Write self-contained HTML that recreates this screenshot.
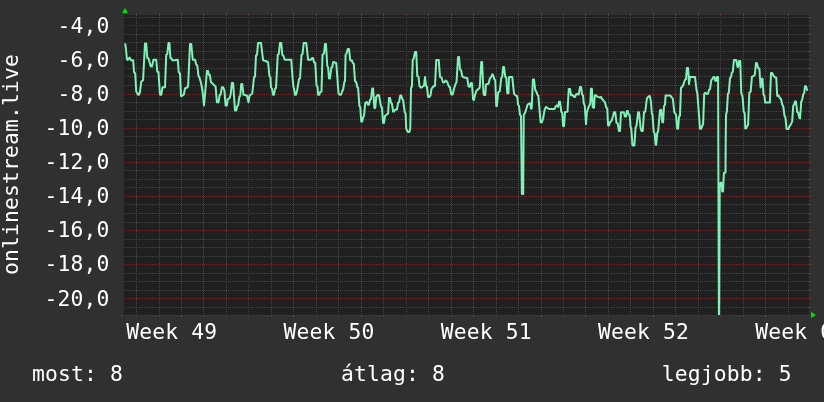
<!DOCTYPE html>
<html lang="hu"><head><meta charset="utf-8"><title>onlinestream.live</title>
<style>
html,body{margin:0;padding:0;background:#303030;overflow:hidden}
svg{display:block}
text{font-family:"DejaVu Sans Mono","Liberation Mono",monospace;font-size:21.33px;letter-spacing:0.16px;fill:#ffffff}
</style></head><body>
<svg width="824" height="402" viewBox="0 0 824 402">
<rect width="824" height="402" fill="#303030"/>
<rect x="124" y="15" width="685" height="300" fill="#202020"/>

<g stroke-width="1" stroke-dasharray="1 1" shape-rendering="crispEdges">
<line x1="123" y1="17.5" x2="811" y2="17.5" stroke="#454545" stroke-dashoffset="1"/>
<line x1="123" y1="34.5" x2="811" y2="34.5" stroke="#454545" stroke-dashoffset="1"/>
<line x1="123" y1="42.5" x2="811" y2="42.5" stroke="#454545" stroke-dashoffset="1"/>
<line x1="123" y1="51.5" x2="811" y2="51.5" stroke="#454545" stroke-dashoffset="1"/>
<line x1="123" y1="68.5" x2="811" y2="68.5" stroke="#454545" stroke-dashoffset="1"/>
<line x1="123" y1="76.5" x2="811" y2="76.5" stroke="#454545" stroke-dashoffset="1"/>
<line x1="123" y1="85.5" x2="811" y2="85.5" stroke="#454545" stroke-dashoffset="1"/>
<line x1="123" y1="102.5" x2="811" y2="102.5" stroke="#454545" stroke-dashoffset="1"/>
<line x1="123" y1="111.5" x2="811" y2="111.5" stroke="#454545" stroke-dashoffset="1"/>
<line x1="123" y1="119.5" x2="811" y2="119.5" stroke="#454545" stroke-dashoffset="1"/>
<line x1="123" y1="136.5" x2="811" y2="136.5" stroke="#454545" stroke-dashoffset="1"/>
<line x1="123" y1="145.5" x2="811" y2="145.5" stroke="#454545" stroke-dashoffset="1"/>
<line x1="123" y1="153.5" x2="811" y2="153.5" stroke="#454545" stroke-dashoffset="1"/>
<line x1="123" y1="170.5" x2="811" y2="170.5" stroke="#454545" stroke-dashoffset="1"/>
<line x1="123" y1="179.5" x2="811" y2="179.5" stroke="#454545" stroke-dashoffset="1"/>
<line x1="123" y1="187.5" x2="811" y2="187.5" stroke="#454545" stroke-dashoffset="1"/>
<line x1="123" y1="204.5" x2="811" y2="204.5" stroke="#454545" stroke-dashoffset="1"/>
<line x1="123" y1="213.5" x2="811" y2="213.5" stroke="#454545" stroke-dashoffset="1"/>
<line x1="123" y1="222.5" x2="811" y2="222.5" stroke="#454545" stroke-dashoffset="1"/>
<line x1="123" y1="239.5" x2="811" y2="239.5" stroke="#454545" stroke-dashoffset="1"/>
<line x1="123" y1="247.5" x2="811" y2="247.5" stroke="#454545" stroke-dashoffset="1"/>
<line x1="123" y1="256.5" x2="811" y2="256.5" stroke="#454545" stroke-dashoffset="1"/>
<line x1="123" y1="273.5" x2="811" y2="273.5" stroke="#454545" stroke-dashoffset="1"/>
<line x1="123" y1="281.5" x2="811" y2="281.5" stroke="#454545" stroke-dashoffset="1"/>
<line x1="123" y1="290.5" x2="811" y2="290.5" stroke="#454545" stroke-dashoffset="1"/>
<line x1="123" y1="307.5" x2="811" y2="307.5" stroke="#454545" stroke-dashoffset="1"/>
<line x1="136.5" y1="15" x2="136.5" y2="315" stroke="#494949"/>
<line x1="159.5" y1="15" x2="159.5" y2="315" stroke="#494949"/>
<line x1="181.5" y1="15" x2="181.5" y2="315" stroke="#494949"/>
<line x1="203.5" y1="15" x2="203.5" y2="315" stroke="#494949"/>
<line x1="226.5" y1="15" x2="226.5" y2="315" stroke="#494949"/>
<line x1="271.5" y1="15" x2="271.5" y2="315" stroke="#494949"/>
<line x1="293.5" y1="15" x2="293.5" y2="315" stroke="#494949"/>
<line x1="316.5" y1="15" x2="316.5" y2="315" stroke="#494949"/>
<line x1="338.5" y1="15" x2="338.5" y2="315" stroke="#494949"/>
<line x1="361.5" y1="15" x2="361.5" y2="315" stroke="#494949"/>
<line x1="383.5" y1="15" x2="383.5" y2="315" stroke="#494949"/>
<line x1="428.5" y1="15" x2="428.5" y2="315" stroke="#494949"/>
<line x1="451.5" y1="15" x2="451.5" y2="315" stroke="#494949"/>
<line x1="473.5" y1="15" x2="473.5" y2="315" stroke="#494949"/>
<line x1="496.5" y1="15" x2="496.5" y2="315" stroke="#494949"/>
<line x1="518.5" y1="15" x2="518.5" y2="315" stroke="#494949"/>
<line x1="541.5" y1="15" x2="541.5" y2="315" stroke="#494949"/>
<line x1="585.5" y1="15" x2="585.5" y2="315" stroke="#494949"/>
<line x1="608.5" y1="15" x2="608.5" y2="315" stroke="#494949"/>
<line x1="630.5" y1="15" x2="630.5" y2="315" stroke="#494949"/>
<line x1="653.5" y1="15" x2="653.5" y2="315" stroke="#494949"/>
<line x1="675.5" y1="15" x2="675.5" y2="315" stroke="#494949"/>
<line x1="698.5" y1="15" x2="698.5" y2="315" stroke="#494949"/>
<line x1="743.5" y1="15" x2="743.5" y2="315" stroke="#494949"/>
<line x1="765.5" y1="15" x2="765.5" y2="315" stroke="#494949"/>
<line x1="788.5" y1="15" x2="788.5" y2="315" stroke="#494949"/>
<line x1="123" y1="25.5" x2="811" y2="25.5" stroke="#6a2e2e" stroke-dashoffset="1"/>
<line x1="123" y1="59.5" x2="811" y2="59.5" stroke="#6a2e2e" stroke-dashoffset="1"/>
<line x1="123" y1="94.5" x2="811" y2="94.5" stroke="#6a2e2e" stroke-dashoffset="1"/>
<line x1="123" y1="128.5" x2="811" y2="128.5" stroke="#6a2e2e" stroke-dashoffset="1"/>
<line x1="123" y1="162.5" x2="811" y2="162.5" stroke="#6a2e2e" stroke-dashoffset="1"/>
<line x1="123" y1="196.5" x2="811" y2="196.5" stroke="#6a2e2e" stroke-dashoffset="1"/>
<line x1="123" y1="230.5" x2="811" y2="230.5" stroke="#6a2e2e" stroke-dashoffset="1"/>
<line x1="123" y1="264.5" x2="811" y2="264.5" stroke="#6a2e2e" stroke-dashoffset="1"/>
<line x1="123" y1="298.5" x2="811" y2="298.5" stroke="#6a2e2e" stroke-dashoffset="1"/>
<line x1="248.5" y1="15" x2="248.5" y2="315" stroke="#6a2e2e"/>
<line x1="406.5" y1="15" x2="406.5" y2="315" stroke="#6a2e2e"/>
<line x1="563.5" y1="15" x2="563.5" y2="315" stroke="#6a2e2e"/>
<line x1="720.5" y1="15" x2="720.5" y2="315" stroke="#6a2e2e"/>
</g>
<g stroke-width="1" shape-rendering="crispEdges">
<line x1="808" y1="17.5" x2="811" y2="17.5" stroke="#454545"/>
<line x1="123" y1="17.5" x2="124" y2="17.5" stroke="#454545"/>
<line x1="808" y1="25.5" x2="811" y2="25.5" stroke="#6a2e2e"/>
<line x1="123" y1="25.5" x2="124" y2="25.5" stroke="#6a2e2e"/>
<line x1="808" y1="34.5" x2="811" y2="34.5" stroke="#454545"/>
<line x1="123" y1="34.5" x2="124" y2="34.5" stroke="#454545"/>
<line x1="808" y1="42.5" x2="811" y2="42.5" stroke="#454545"/>
<line x1="123" y1="42.5" x2="124" y2="42.5" stroke="#454545"/>
<line x1="808" y1="51.5" x2="811" y2="51.5" stroke="#454545"/>
<line x1="123" y1="51.5" x2="124" y2="51.5" stroke="#454545"/>
<line x1="808" y1="59.5" x2="811" y2="59.5" stroke="#6a2e2e"/>
<line x1="123" y1="59.5" x2="124" y2="59.5" stroke="#6a2e2e"/>
<line x1="808" y1="68.5" x2="811" y2="68.5" stroke="#454545"/>
<line x1="123" y1="68.5" x2="124" y2="68.5" stroke="#454545"/>
<line x1="808" y1="76.5" x2="811" y2="76.5" stroke="#454545"/>
<line x1="123" y1="76.5" x2="124" y2="76.5" stroke="#454545"/>
<line x1="808" y1="85.5" x2="811" y2="85.5" stroke="#454545"/>
<line x1="123" y1="85.5" x2="124" y2="85.5" stroke="#454545"/>
<line x1="808" y1="94.5" x2="811" y2="94.5" stroke="#6a2e2e"/>
<line x1="123" y1="94.5" x2="124" y2="94.5" stroke="#6a2e2e"/>
<line x1="808" y1="102.5" x2="811" y2="102.5" stroke="#454545"/>
<line x1="123" y1="102.5" x2="124" y2="102.5" stroke="#454545"/>
<line x1="808" y1="111.5" x2="811" y2="111.5" stroke="#454545"/>
<line x1="123" y1="111.5" x2="124" y2="111.5" stroke="#454545"/>
<line x1="808" y1="119.5" x2="811" y2="119.5" stroke="#454545"/>
<line x1="123" y1="119.5" x2="124" y2="119.5" stroke="#454545"/>
<line x1="808" y1="128.5" x2="811" y2="128.5" stroke="#6a2e2e"/>
<line x1="123" y1="128.5" x2="124" y2="128.5" stroke="#6a2e2e"/>
<line x1="808" y1="136.5" x2="811" y2="136.5" stroke="#454545"/>
<line x1="123" y1="136.5" x2="124" y2="136.5" stroke="#454545"/>
<line x1="808" y1="145.5" x2="811" y2="145.5" stroke="#454545"/>
<line x1="123" y1="145.5" x2="124" y2="145.5" stroke="#454545"/>
<line x1="808" y1="153.5" x2="811" y2="153.5" stroke="#454545"/>
<line x1="123" y1="153.5" x2="124" y2="153.5" stroke="#454545"/>
<line x1="808" y1="162.5" x2="811" y2="162.5" stroke="#6a2e2e"/>
<line x1="123" y1="162.5" x2="124" y2="162.5" stroke="#6a2e2e"/>
<line x1="808" y1="170.5" x2="811" y2="170.5" stroke="#454545"/>
<line x1="123" y1="170.5" x2="124" y2="170.5" stroke="#454545"/>
<line x1="808" y1="179.5" x2="811" y2="179.5" stroke="#454545"/>
<line x1="123" y1="179.5" x2="124" y2="179.5" stroke="#454545"/>
<line x1="808" y1="187.5" x2="811" y2="187.5" stroke="#454545"/>
<line x1="123" y1="187.5" x2="124" y2="187.5" stroke="#454545"/>
<line x1="808" y1="196.5" x2="811" y2="196.5" stroke="#6a2e2e"/>
<line x1="123" y1="196.5" x2="124" y2="196.5" stroke="#6a2e2e"/>
<line x1="808" y1="204.5" x2="811" y2="204.5" stroke="#454545"/>
<line x1="123" y1="204.5" x2="124" y2="204.5" stroke="#454545"/>
<line x1="808" y1="213.5" x2="811" y2="213.5" stroke="#454545"/>
<line x1="123" y1="213.5" x2="124" y2="213.5" stroke="#454545"/>
<line x1="808" y1="222.5" x2="811" y2="222.5" stroke="#454545"/>
<line x1="123" y1="222.5" x2="124" y2="222.5" stroke="#454545"/>
<line x1="808" y1="230.5" x2="811" y2="230.5" stroke="#6a2e2e"/>
<line x1="123" y1="230.5" x2="124" y2="230.5" stroke="#6a2e2e"/>
<line x1="808" y1="239.5" x2="811" y2="239.5" stroke="#454545"/>
<line x1="123" y1="239.5" x2="124" y2="239.5" stroke="#454545"/>
<line x1="808" y1="247.5" x2="811" y2="247.5" stroke="#454545"/>
<line x1="123" y1="247.5" x2="124" y2="247.5" stroke="#454545"/>
<line x1="808" y1="256.5" x2="811" y2="256.5" stroke="#454545"/>
<line x1="123" y1="256.5" x2="124" y2="256.5" stroke="#454545"/>
<line x1="808" y1="264.5" x2="811" y2="264.5" stroke="#6a2e2e"/>
<line x1="123" y1="264.5" x2="124" y2="264.5" stroke="#6a2e2e"/>
<line x1="808" y1="273.5" x2="811" y2="273.5" stroke="#454545"/>
<line x1="123" y1="273.5" x2="124" y2="273.5" stroke="#454545"/>
<line x1="808" y1="281.5" x2="811" y2="281.5" stroke="#454545"/>
<line x1="123" y1="281.5" x2="124" y2="281.5" stroke="#454545"/>
<line x1="808" y1="290.5" x2="811" y2="290.5" stroke="#454545"/>
<line x1="123" y1="290.5" x2="124" y2="290.5" stroke="#454545"/>
<line x1="808" y1="298.5" x2="811" y2="298.5" stroke="#6a2e2e"/>
<line x1="123" y1="298.5" x2="124" y2="298.5" stroke="#6a2e2e"/>
<line x1="808" y1="307.5" x2="811" y2="307.5" stroke="#454545"/>
<line x1="123" y1="307.5" x2="124" y2="307.5" stroke="#454545"/>
<line x1="136.5" y1="13" x2="136.5" y2="15" stroke="#494949"/>
<line x1="136.5" y1="315" x2="136.5" y2="317" stroke="#494949"/>
<line x1="159.5" y1="13" x2="159.5" y2="15" stroke="#494949"/>
<line x1="159.5" y1="315" x2="159.5" y2="317" stroke="#494949"/>
<line x1="181.5" y1="13" x2="181.5" y2="15" stroke="#494949"/>
<line x1="181.5" y1="315" x2="181.5" y2="317" stroke="#494949"/>
<line x1="203.5" y1="13" x2="203.5" y2="15" stroke="#494949"/>
<line x1="203.5" y1="315" x2="203.5" y2="317" stroke="#494949"/>
<line x1="226.5" y1="13" x2="226.5" y2="15" stroke="#494949"/>
<line x1="226.5" y1="315" x2="226.5" y2="317" stroke="#494949"/>
<line x1="248.5" y1="13" x2="248.5" y2="15" stroke="#6a2e2e"/>
<line x1="248.5" y1="315" x2="248.5" y2="317" stroke="#6a2e2e"/>
<line x1="271.5" y1="13" x2="271.5" y2="15" stroke="#494949"/>
<line x1="271.5" y1="315" x2="271.5" y2="317" stroke="#494949"/>
<line x1="293.5" y1="13" x2="293.5" y2="15" stroke="#494949"/>
<line x1="293.5" y1="315" x2="293.5" y2="317" stroke="#494949"/>
<line x1="316.5" y1="13" x2="316.5" y2="15" stroke="#494949"/>
<line x1="316.5" y1="315" x2="316.5" y2="317" stroke="#494949"/>
<line x1="338.5" y1="13" x2="338.5" y2="15" stroke="#494949"/>
<line x1="338.5" y1="315" x2="338.5" y2="317" stroke="#494949"/>
<line x1="361.5" y1="13" x2="361.5" y2="15" stroke="#494949"/>
<line x1="361.5" y1="315" x2="361.5" y2="317" stroke="#494949"/>
<line x1="383.5" y1="13" x2="383.5" y2="15" stroke="#494949"/>
<line x1="383.5" y1="315" x2="383.5" y2="317" stroke="#494949"/>
<line x1="406.5" y1="13" x2="406.5" y2="15" stroke="#6a2e2e"/>
<line x1="406.5" y1="315" x2="406.5" y2="317" stroke="#6a2e2e"/>
<line x1="428.5" y1="13" x2="428.5" y2="15" stroke="#494949"/>
<line x1="428.5" y1="315" x2="428.5" y2="317" stroke="#494949"/>
<line x1="451.5" y1="13" x2="451.5" y2="15" stroke="#494949"/>
<line x1="451.5" y1="315" x2="451.5" y2="317" stroke="#494949"/>
<line x1="473.5" y1="13" x2="473.5" y2="15" stroke="#494949"/>
<line x1="473.5" y1="315" x2="473.5" y2="317" stroke="#494949"/>
<line x1="496.5" y1="13" x2="496.5" y2="15" stroke="#494949"/>
<line x1="496.5" y1="315" x2="496.5" y2="317" stroke="#494949"/>
<line x1="518.5" y1="13" x2="518.5" y2="15" stroke="#494949"/>
<line x1="518.5" y1="315" x2="518.5" y2="317" stroke="#494949"/>
<line x1="541.5" y1="13" x2="541.5" y2="15" stroke="#494949"/>
<line x1="541.5" y1="315" x2="541.5" y2="317" stroke="#494949"/>
<line x1="563.5" y1="13" x2="563.5" y2="15" stroke="#6a2e2e"/>
<line x1="563.5" y1="315" x2="563.5" y2="317" stroke="#6a2e2e"/>
<line x1="585.5" y1="13" x2="585.5" y2="15" stroke="#494949"/>
<line x1="585.5" y1="315" x2="585.5" y2="317" stroke="#494949"/>
<line x1="608.5" y1="13" x2="608.5" y2="15" stroke="#494949"/>
<line x1="608.5" y1="315" x2="608.5" y2="317" stroke="#494949"/>
<line x1="630.5" y1="13" x2="630.5" y2="15" stroke="#494949"/>
<line x1="630.5" y1="315" x2="630.5" y2="317" stroke="#494949"/>
<line x1="653.5" y1="13" x2="653.5" y2="15" stroke="#494949"/>
<line x1="653.5" y1="315" x2="653.5" y2="317" stroke="#494949"/>
<line x1="675.5" y1="13" x2="675.5" y2="15" stroke="#494949"/>
<line x1="675.5" y1="315" x2="675.5" y2="317" stroke="#494949"/>
<line x1="698.5" y1="13" x2="698.5" y2="15" stroke="#494949"/>
<line x1="698.5" y1="315" x2="698.5" y2="317" stroke="#494949"/>
<line x1="720.5" y1="13" x2="720.5" y2="15" stroke="#6a2e2e"/>
<line x1="720.5" y1="315" x2="720.5" y2="317" stroke="#6a2e2e"/>
<line x1="743.5" y1="13" x2="743.5" y2="15" stroke="#494949"/>
<line x1="743.5" y1="315" x2="743.5" y2="317" stroke="#494949"/>
<line x1="765.5" y1="13" x2="765.5" y2="15" stroke="#494949"/>
<line x1="765.5" y1="315" x2="765.5" y2="317" stroke="#494949"/>
<line x1="788.5" y1="13" x2="788.5" y2="15" stroke="#494949"/>
<line x1="788.5" y1="315" x2="788.5" y2="317" stroke="#494949"/>
</g>
<clipPath id="c"><rect x="124" y="15" width="685" height="300"/></clipPath>
<polyline clip-path="url(#c)" points="125.1,43.4 125.9,48.5 126.9,59.2 127.75,59.9 129.5,57.6 131,60.2 133.1,60.2 134.1,72.25 135.25,73.5 136.25,91.6 138.1,94.75 139,94.75 140,91.6 141.25,81.6 142.75,80.5 143.1,79.75 145,43.5 146.25,43.5 147.25,57.9 148.5,58.5 150.6,66 151.9,66.6 153.5,59.75 156.25,59.75 157.25,71.6 158.5,72.25 159.75,92.25 160.25,94.75 161.25,94.75 162.5,87.25 165,87.25 166.25,54.75 167.25,54.1 168.5,42.9 169.4,42.9 170.4,57.9 171.5,58.5 172.5,60.4 177.75,59.75 178.75,72.25 180,73.5 181,96 182.25,95.75 183.75,94.75 185,88.5 187.5,87.25 188.1,86 190,44.1 191.25,44.1 192.75,59.75 195,59.75 196.25,64.75 197.25,65.4 198.5,76 199.4,77.25 201.25,84.1 202.5,91 204,105.4 205,94.75 206.9,71 208.1,71 208.75,74.75 209.75,74.75 211,82.25 212.5,83.5 215.6,86.6 216.9,102.25 218.5,102.25 219.75,94.75 220.6,94.75 221.9,87.25 223.1,87.25 224.4,90.4 225.6,105.4 226.9,105.4 227.75,99.1 229.4,98.5 230.6,94.75 231.9,82.9 233.1,82.9 235,110.4 236.25,110.4 237.25,106 238.1,105.4 239.4,96.6 240.25,96 241.25,84.1 242.25,84.1 243.5,94.75 246.9,95.4 248.5,102.25 249.4,96 250.6,94.75 252.25,93.5 253.1,86 254,77.25 255,76.6 256,55.4 257,54.75 258.1,42.9 261,42.9 263.1,60.4 265.6,61 268.1,62.25 269.4,76 270.4,77.25 271,87.25 271.9,88.5 273.1,94.75 274,94.75 275,89.1 276,87.9 277.75,54.75 278.75,54.1 280,42.9 281.25,42.9 282.25,54.75 283.5,56 284.75,59.75 291.25,59.75 292.5,77.25 293.5,87.25 294,88.5 295,94.75 296,94.75 297.25,89.75 298.5,82.25 299,79.1 300,78.5 301.5,54.75 302.5,54.1 303.75,42.9 306.25,42.9 308.1,59.75 311,59.75 312.25,57.9 313.1,58.25 314,62.25 315.25,62.9 316.5,85.4 317.5,86.6 318.1,94.75 319.4,94.75 320,92.25 321.5,91.6 322.5,54.75 324,53.5 325,44.1 326,44.1 327.25,66 328.1,67.25 329,78.5 330,78.5 331.25,67.9 332.25,67.25 333.1,62.25 334.4,62 335.25,62.9 336.25,62.9 338.5,93.5 339.75,94.75 341,94.75 342.25,91 343.1,89.75 344.4,81.6 345,81 345.6,54.75 346.5,53.5 347.75,49.1 349,49.1 350.25,60.4 351.9,60.4 352.75,62.9 353.75,63.5 355,81 356.25,82.25 357.25,87.25 358.1,87.9 359.4,106 360.25,107.25 361.25,121.6 362.25,121.6 363.1,117.25 364,116 365.25,102.9 366.9,102 368.1,104.75 369,104.5 370,99.75 371,99.1 372.25,88.5 373.1,88.5 374.4,107.9 375.25,107.9 376.25,96.6 378.1,94.75 379,95.4 381,106.6 381.9,107.25 383.1,122.9 384,122.9 385,116 386.5,114.75 388.1,113.5 389,97.9 390,97.9 391,102.9 391.9,103.5 393.1,111.6 394,111.6 395,109.75 396.9,109.5 398.1,102.9 399,102.25 400.25,95.4 401.25,95.4 402.25,99.1 403.1,99.75 404.75,112.25 405.6,113.5 406.25,128.75 407.75,131.9 409.4,131.9 410.25,128.75 411,87.9 411.9,86.6 412.75,59.75 413.75,58.5 415,52 416.25,52 417.25,76 418.5,76.6 419.5,86.25 421.25,87.7 422.75,86.5 424,85.6 425,76.9 426,85.6 426.9,86.9 428.1,96.9 429.4,96.9 430.6,95 431.5,88.75 432.5,87.5 433.75,86.25 435,85.6 436.25,60 438.75,60 440,76.9 441.5,77.5 443.1,82.5 444.4,82.25 445.6,80.6 447.25,81.9 448.75,86.25 450,87.5 451.25,94.4 452.75,94.4 454,88.75 455.6,83.75 456.5,82.5 458.1,56.9 459,56.9 460,69.4 461,70 462.25,76.25 463.5,77.25 465.6,77.75 467.25,78.1 468.5,86.25 469.75,86.9 471,83.1 471.9,83.1 473.1,99.5 473.9,100 475,95 476.5,90.6 478.1,89.4 479.75,87.5 481.25,61.9 482.1,61.9 483.5,93.1 484,95 485.3,95 486,84.4 488.5,83.75 490,78.1 491,77.5 492.25,74.4 493.1,75 494.4,79.4 495.25,80 496.25,106 496.9,106 498.1,92.5 499.75,91.25 501.25,78.1 502.25,76.9 503.1,66.9 504,66.9 505.25,76.9 506.25,77.5 507.25,93.3 508.5,93.3 509,76.9 512.25,76.9 514,93.6 515.3,95.2 517.25,96.4 518.1,104.75 519,106 520,114.75 521,116 521.9,194 523.2,194 523.75,114.75 525,112.9 526.25,109.1 527.6,104.5 529.2,103.6 530.3,103.6 531,108.5 531.7,108.5 532.9,79.4 534,79.4 535.25,90 536.25,91.4 537.5,95 538.3,95.5 539.5,109.5 540.6,122.25 541.9,122.25 543.1,118.5 544.75,109.1 546.25,106.9 547.5,108 549.4,109.1 554.5,109.1 555.8,106.1 557,105.5 558.1,106.9 559,101.7 560,101.7 561.25,111.6 562.25,112.9 563.1,126 564,126 565,112.25 567.5,111.6 568.75,89 570,89 571,95.2 572.5,94.9 574,96.9 575,96.9 576.25,94 578.75,94.4 580,86.9 581,86.9 582.1,94.4 583.1,95.6 583.75,103.5 584.75,105.4 586,124.1 586.9,112.25 588.5,107.25 589.5,105.2 590.25,103.75 591,88.75 591.9,88.75 592.75,107.4 594,107.7 594.75,95.6 595.6,95 597.5,96.9 600,97.5 601.1,97 601.9,98.75 603.1,100.2 605,102.4 606.25,107.4 607.25,108.5 608.1,125.4 609,125.4 610,122.25 611.5,121 613.1,116 614,112.25 615.25,112.25 616.5,122.9 617.75,123.5 619,131 620,131 621,112.25 623.75,112.25 625,116.6 626,116.6 626.9,111 627.75,111 628.75,114.75 629.75,115.4 630.6,127.25 631.25,128.5 632.5,145.4 634.4,145.4 635.6,127.25 636.5,126 638.1,112.25 639,112.25 640.6,127.9 641.5,131 642.75,131 644,112.25 645.25,111.6 646.9,98.5 648.1,96.9 649.75,96 650.8,101 651.9,113.5 652.5,114.75 653.75,132.25 654.75,133.5 655.6,144.75 656.25,144.75 657.25,132.9 658.1,131.6 660,110.4 661.25,109.75 662.25,122.25 663.1,122.25 664,106 665,104.75 665.6,95.4 670.25,95.4 671.7,97.4 672.8,98.6 674.4,112.5 676,114.4 677.25,128.75 678.1,128.75 679,116.9 680,115.6 681,87.9 681.9,87.25 683.1,85.4 685,79.75 686,79.1 686.9,67.9 688.1,67.9 689,84.1 690,76.6 691.25,77 695,77 696.5,89.75 697.4,94 698.75,111.9 700,128.75 701.25,128.75 702.25,125.6 703.1,124.4 704.2,94 705.4,92.7 706.9,94.1 708.1,93.5 709,89.75 710,89.1 711.25,80.4 712.25,79.1 713.5,77 714.4,77 715.25,80.75 716.25,80.75 716.9,77 718.1,77 718.9,320 719.1,320 719.7,184 721.2,182.5 722.3,191.5 723,191.5 723.9,173 725.5,172.5 725.7,140 726,115 726.9,111.25 727.9,93.75 728.75,93.1 730,78.1 731,76.9 731.9,72.5 732.75,71.9 734,60 736.25,60 737.5,66.9 738.1,66.9 739,61 740.25,61 741.25,93 742.6,97 743.7,111.5 744.7,113.5 745.3,128.5 746.2,128.5 747.2,126 748.1,124.8 749.3,93 750.7,91.3 751.9,76.9 753.1,76.25 754.75,75 756,63.1 756.9,63.1 758.1,68.1 759.4,68.75 760.6,87.5 761.9,78.75 762.5,78.75 763.5,94.6 764.4,95.8 765.2,102.6 769.9,102.6 771,73.1 772.25,73.1 773.5,75.6 775,77.25 776.25,77.75 777.2,96 778.5,95.2 779.8,97.9 781,99 782.3,104.7 783.3,106.5 784.5,115.9 785.4,117.1 786.6,128.9 788.5,128.9 789.75,125.8 790.75,124.6 792.2,121.4 793.2,105.9 794.1,104.7 795,101.5 796,101.5 797.2,112.1 798.2,112.7 799.5,118.3 800.1,118.3 801.2,101.5 802.1,100.2 803.2,94.5 804.2,93 805,86.25 806,86.25 807,89.5 807.5,90.8" fill="none" stroke="#80f2b8" stroke-width="2" stroke-linejoin="round" stroke-linecap="butt"/>
<line x1="124" y1="315.5" x2="809" y2="315.5" stroke="#424242" stroke-width="1" stroke-dasharray="1 1" shape-rendering="crispEdges"/>
<line x1="123.5" y1="15" x2="123.5" y2="319" stroke="#2a2a2a" stroke-width="1" shape-rendering="crispEdges"/>
<line x1="121" y1="315.5" x2="123" y2="315.5" stroke="#505050" stroke-width="1" shape-rendering="crispEdges"/>
<polygon points="122,13 128,13 125,8" fill="#00e000"/>
<polygon points="811,312 811,318 816,315" fill="#00e000"/>
<text x="109.5" y="32.5" text-anchor="end">-4,0</text>
<text x="109.5" y="66.6" text-anchor="end">-6,0</text>
<text x="109.5" y="100.8" text-anchor="end">-8,0</text>
<text x="109.5" y="134.9" text-anchor="end">-10,0</text>
<text x="109.5" y="169.0" text-anchor="end">-12,0</text>
<text x="109.5" y="203.1" text-anchor="end">-14,0</text>
<text x="109.5" y="237.2" text-anchor="end">-16,0</text>
<text x="109.5" y="271.4" text-anchor="end">-18,0</text>
<text x="109.5" y="305.5" text-anchor="end">-20,0</text>
<text x="126.2" y="339">Week 49</text>
<text x="283.5" y="339">Week 50</text>
<text x="440.7" y="339">Week 51</text>
<text x="598.0" y="339">Week 52</text>
<text x="755.2" y="339">Week 01</text>
<text transform="translate(18,164.5) rotate(-90)" text-anchor="middle">onlinestream.live</text>
<text x="32" y="381">most: 8</text>
<text x="341" y="381">átlag: 8</text>
<text x="661.8" y="381">legjobb: 5</text>
</svg></body></html>
